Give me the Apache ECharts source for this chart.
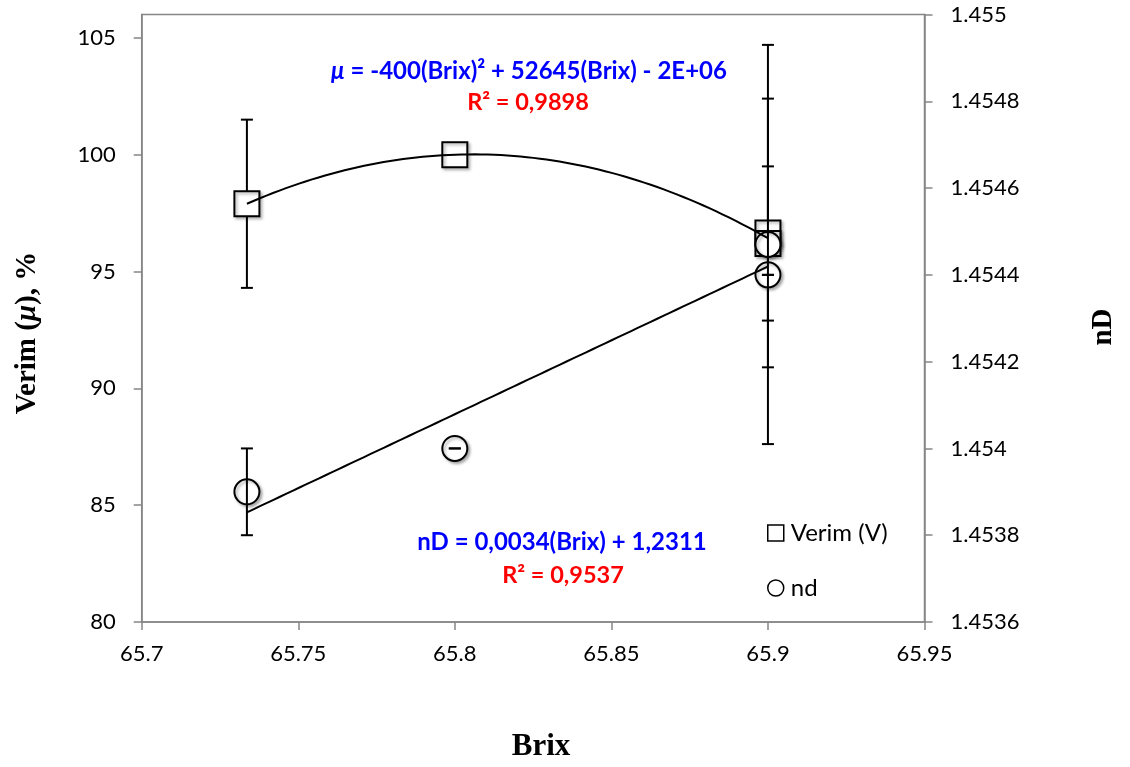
<!DOCTYPE html>
<html>
<head>
<meta charset="utf-8">
<script src="https://cdn.jsdelivr.net/npm/echarts@6/dist/echarts.min.js"></script>
<style>
  html, body { margin: 0; padding: 0; background: #fff; }
  #chart { width: 1130px; height: 767px; }
</style>
</head>
<body>
<div id="chart"></div>
<script>
// Measurements: Brix, yield (Verim, %) and refractive index (nD)
const brix     = [65.7336, 65.8, 65.9, 65.9];
const verim    = [97.9, 100.0, 96.65, 96.2];
const verimErr = [3.6, 0, 5.75, 3.3];
const nd       = [1.4539, 1.4540, 1.45447, 1.4544];
const ndErr    = [0.0001, 0, 0.00046, 0];

// Axis ranges: [min, max, step]
const brixAxis  = [65.7, 65.95, 0.05];
const verimAxis = [80, 106, 5];
const ndAxis    = [1.4536, 1.455, 0.0002];

// Trend line labels
const verimEq = 'μ = -400(Brix)² + 52645(Brix) - 2E+06';
const verimR2 = 'R² = 0,9898';
const ndEq    = 'nD = 0,0034(Brix) + 1,2311';
const ndR2    = 'R² = 0,9537';

// Least-squares polynomial fit (x centred for stability)
function polyfit(xs, ys, deg) {
  const mx = xs.reduce((a, b) => a + b, 0) / xs.length;
  const n = deg + 1;
  const A = Array.from({ length: n }, () => new Array(n + 1).fill(0));
  xs.forEach((x, k) => {
    const u = x - mx;
    for (let i = 0; i < n; i++) {
      for (let j = 0; j < n; j++) A[i][j] += Math.pow(u, i + j);
      A[i][n] += ys[k] * Math.pow(u, i);
    }
  });
  for (let c = 0; c < n; c++) {
    let p = c;
    for (let r = c + 1; r < n; r++) if (Math.abs(A[r][c]) > Math.abs(A[p][c])) p = r;
    [A[c], A[p]] = [A[p], A[c]];
    for (let r = 0; r < n; r++) {
      if (r === c) continue;
      const f = A[r][c] / A[c][c];
      for (let k = c; k <= n; k++) A[r][k] -= f * A[c][k];
    }
  }
  const coef = A.map((row, i) => row[n] / row[i]);
  return x => coef.reduce((s, c, i) => s + c * Math.pow(x - mx, i), 0);
}

function trendPoints(fn) {
  const lo = Math.min(...brix), hi = Math.max(...brix), steps = 80;
  const pts = [];
  for (let i = 0; i <= steps; i++) {
    const x = lo + (hi - lo) * i / steps;
    pts.push([x, fn(x)]);
  }
  return pts;
}

const verimFit = polyfit(brix, verim, 2);
const ndFit = polyfit(brix, nd, 1);

// Vertical error bars with caps
function errorBar(params, api) {
  const x = api.value(0), y = api.value(1), e = api.value(2);
  const top = api.coord([x, y + e]);
  const bot = api.coord([x, y - e]);
  const hw = 6;
  const st = { stroke: '#000', lineWidth: 2 };
  return {
    type: 'group',
    children: [
      { type: 'line', shape: { x1: top[0], y1: top[1], x2: bot[0], y2: bot[1] }, style: st },
      { type: 'line', shape: { x1: top[0] - hw, y1: top[1], x2: top[0] + hw, y2: top[1] }, style: st },
      { type: 'line', shape: { x1: bot[0] - hw, y1: bot[1], x2: bot[0] + hw, y2: bot[1] }, style: st }
    ]
  };
}

const AXIS_GRAY = '#868686';
const SANS = 'Lato, "Open Sans", sans-serif';
const SERIF = '"Liberation Serif", "DejaVu Serif", serif';

const markerStyle = {
  color: '#fff',
  opacity: 1,
  borderColor: '#000',
  borderWidth: 2,
  shadowColor: 'rgba(0,0,0,0.3)',
  shadowBlur: 3,
  shadowOffsetX: 2,
  shadowOffsetY: 2
};

const fmt = v => String(Number(v.toFixed(4)));

const chart = echarts.init(document.getElementById('chart'), null, { renderer: 'canvas' });

chart.setOption({
  backgroundColor: '#fff',
  animation: false,
  grid: {
    left: 141.7, right: 205.5, top: 14.5, bottom: 145,
    show: true, borderColor: AXIS_GRAY, borderWidth: 1.5, backgroundColor: '#fff'
  },
  legend: {
    orient: 'vertical',
    left: 767, top: 521,
    padding: 0,
    itemWidth: 16, itemHeight: 16, itemGap: 31,
    textStyle: { fontFamily: SANS, fontSize: 24, color: '#000', padding: [0, 0, 0, 2] },
    data: [
      { name: 'Verim (V)', icon: 'rect', itemStyle: { color: '#fff', borderColor: '#000', borderWidth: 1.5 } },
      { name: 'nd', icon: 'circle', itemStyle: { color: '#fff', borderColor: '#000', borderWidth: 1.5 } }
    ]
  },
  xAxis: {
    type: 'value',
    min: brixAxis[0], max: brixAxis[1], interval: brixAxis[2],
    splitLine: { show: false },
    axisLine: { show: true, onZero: false, lineStyle: { color: AXIS_GRAY, width: 1.5 } },
    axisTick: { show: true, inside: false, length: 8, lineStyle: { color: AXIS_GRAY, width: 1.5 } },
    axisLabel: { margin: 21, fontFamily: SANS, fontSize: 22, color: '#000', formatter: fmt }
  },
  yAxis: [
    {
      type: 'value', position: 'left',
      min: verimAxis[0], max: verimAxis[1], interval: verimAxis[2],
      splitLine: { show: false },
      axisLine: { show: true, onZero: false, lineStyle: { color: AXIS_GRAY, width: 1.5 } },
      axisTick: { show: true, inside: false, length: 8, lineStyle: { color: AXIS_GRAY, width: 1.5 } },
      axisLabel: { margin: 26, fontFamily: SANS, fontSize: 22, color: '#000', showMaxLabel: false, formatter: fmt }
    },
    {
      type: 'value', position: 'right',
      min: ndAxis[0], max: ndAxis[1], interval: ndAxis[2],
      splitLine: { show: false },
      axisLine: { show: true, onZero: false, lineStyle: { color: AXIS_GRAY, width: 1.5 } },
      axisTick: { show: true, inside: false, length: 8, lineStyle: { color: AXIS_GRAY, width: 1.5 } },
      axisLabel: { margin: 26, fontFamily: SANS, fontSize: 22, color: '#000', formatter: fmt }
    }
  ],
  series: [
    {
      name: 'Verim error', type: 'custom', yAxisIndex: 0, z: 2,
      renderItem: errorBar, encode: { x: 0, y: 1 },
      data: brix.map((b, i) => [b, verim[i], verimErr[i]])
    },
    {
      name: 'Verim (V)', type: 'scatter', yAxisIndex: 0, z: 3,
      symbol: 'rect', symbolSize: 25,
      itemStyle: markerStyle,
      emphasis: { disabled: true },
      data: brix.map((b, i) => [b, verim[i]])
    },
    {
      name: 'nd', type: 'scatter', yAxisIndex: 1, z: 4,
      symbol: 'circle', symbolSize: 25,
      itemStyle: markerStyle,
      emphasis: { disabled: true },
      data: brix.map((b, i) => [b, nd[i]])
    },
    {
      name: 'nd error', type: 'custom', yAxisIndex: 1, z: 5,
      renderItem: errorBar, encode: { x: 0, y: 1 },
      data: brix.map((b, i) => [b, nd[i], ndErr[i]])
    },
    {
      name: 'Verim trend', type: 'line', yAxisIndex: 0, z: 6,
      showSymbol: false, smooth: false,
      lineStyle: { color: '#000', width: 2 },
      data: trendPoints(verimFit)
    },
    {
      name: 'nd trend', type: 'line', yAxisIndex: 1, z: 6,
      showSymbol: false,
      lineStyle: { color: '#000', width: 2 },
      data: trendPoints(ndFit)
    }
  ],
  graphic: [
    {
      type: 'text', x: 529, y: 71, z: 10,
      style: {
        text: '{mu|μ}' + verimEq.slice(1),
        align: 'center', verticalAlign: 'middle',
        fill: '#0000ff', fontFamily: SANS, fontSize: 24, fontWeight: 'bold',
        rich: { mu: { fontFamily: SANS, fontSize: 24, fontWeight: 'bold', fontStyle: 'italic', fill: '#0000ff' } }
      }
    },
    {
      type: 'text', x: 528, y: 102, z: 10,
      style: { text: verimR2, align: 'center', verticalAlign: 'middle', fill: '#ff0000', fontFamily: SANS, fontSize: 23.5, fontWeight: 'bold' }
    },
    {
      type: 'text', x: 562, y: 542, z: 10,
      style: { text: ndEq, align: 'center', verticalAlign: 'middle', fill: '#0000ff', fontFamily: SANS, fontSize: 24, fontWeight: 'bold' }
    },
    {
      type: 'text', x: 563, y: 575, z: 10,
      style: { text: ndR2, align: 'center', verticalAlign: 'middle', fill: '#ff0000', fontFamily: SANS, fontSize: 23.5, fontWeight: 'bold' }
    },
    {
      type: 'text', x: 28, y: 333, rotation: Math.PI / 2, z: 10,
      style: {
        text: 'Verim ({mu|μ}), %',
        align: 'center', verticalAlign: 'middle',
        fill: '#000', fontFamily: SERIF, fontSize: 29, fontWeight: 'bold',
        rich: { mu: { fontFamily: SERIF, fontSize: 29, fontWeight: 'bold', fontStyle: 'italic', fill: '#000' } }
      }
    },
    {
      type: 'text', x: 1104, y: 327, rotation: Math.PI / 2, z: 10,
      style: { text: 'nD', align: 'center', verticalAlign: 'middle', fill: '#000', fontFamily: SERIF, fontSize: 29, fontWeight: 'bold' }
    },
    {
      type: 'text', x: 541, y: 747, z: 10,
      style: { text: 'Brix', align: 'center', verticalAlign: 'middle', fill: '#000', fontFamily: SERIF, fontSize: 31, fontWeight: 'bold' }
    }
  ]
});
</script>
</body>
</html>
